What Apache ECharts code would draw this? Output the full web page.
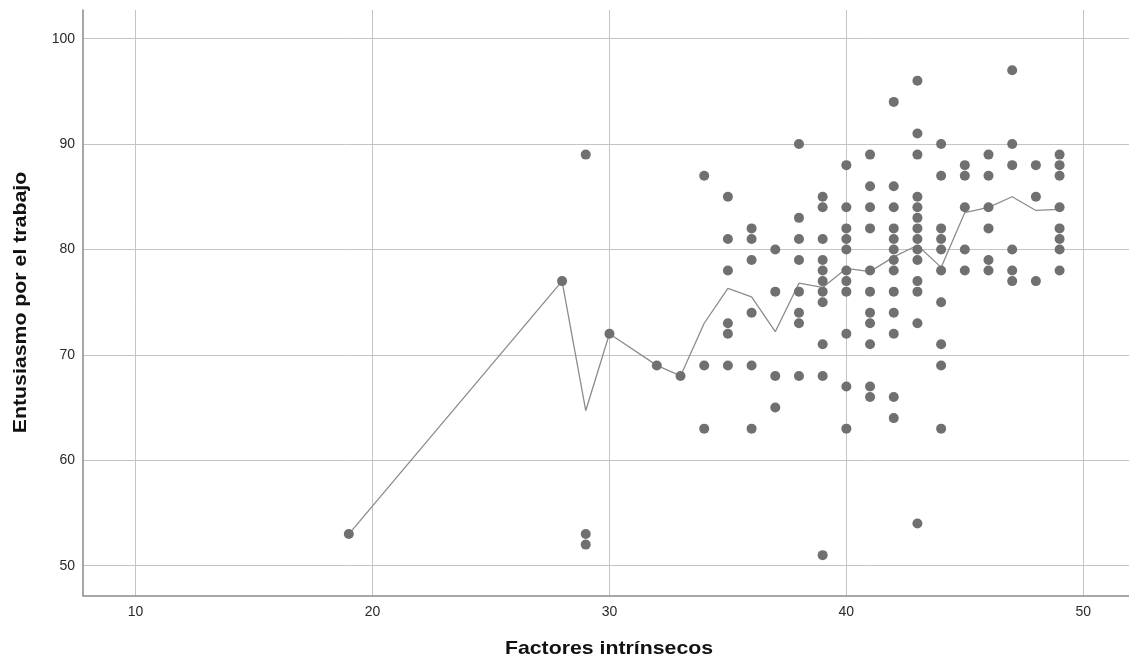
<!DOCTYPE html>
<html>
<head>
<meta charset="utf-8">
<title>Entusiasmo por el trabajo vs. Factores intrínsecos</title>
<script src="https://cdn.jsdelivr.net/npm/echarts@6/dist/echarts.min.js"></script>
<style>
  html, body { margin: 0; padding: 0; background: #ffffff; }
  #chart { width: 1129px; height: 663px; }
</style>
</head>
<body>
<div id="chart"></div>
<script>
// Observed scores: each x value with the list of "Entusiasmo" scores at it
const xValues = [19, 28, 29, 30, 32, 33, 34, 35, 36, 37, 38, 39, 40, 41, 42, 43, 44, 45, 46, 47, 48, 49];
const yGroups = [
  [53],
  [77],
  [89, 53, 52],
  [72],
  [69],
  [68],
  [87, 69, 63],
  [85, 81, 78, 73, 72, 69],
  [82, 81, 79, 74, 69, 63],
  [80, 76, 68, 65],
  [90, 83, 81, 79, 76, 74, 73, 68],
  [85, 84, 81, 79, 78, 77, 76, 75, 71, 68, 51],
  [88, 84, 82, 81, 80, 78, 77, 76, 72, 67, 63],
  [89, 86, 84, 82, 78, 76, 74, 73, 71, 67, 66],
  [94, 86, 84, 82, 81, 80, 79, 78, 76, 74, 72, 66, 64],
  [96, 91, 89, 85, 84, 83, 82, 81, 80, 79, 77, 76, 73, 54],
  [90, 87, 82, 81, 80, 78, 75, 71, 69, 63],
  [88, 87, 84, 80, 78],
  [89, 87, 84, 82, 79, 78],
  [97, 90, 88, 80, 78, 77],
  [88, 85, 77],
  [89, 88, 87, 84, 82, 81, 80, 78]
];
// Mean score at each x value (fit line at the group means)
const meanLine = [53, 77, 64.7, 72, 69, 68, 73, 76.3, 75.5, 72.2, 76.8, 76.4, 78.2, 77.9, 79.3, 80.4, 78.3, 83.5, 84.0, 85.0, 83.7, 83.8];

const xTitle = 'Factores intrínsecos';
const yTitle = 'Entusiasmo por el trabajo';

const scatterData = [];
xValues.forEach((x, i) => yGroups[i].forEach(y => scatterData.push([x, y])));
const lineData = xValues.map((x, i) => [x, meanLine[i]]);

const FONT = '"Liberation Sans", Arial, sans-serif';
const TITLE_STRETCH = 1.12; // axis titles are set slightly wide

function titleText(text, x, y, rotation) {
  return {
    type: 'text',
    x: x,
    y: y,
    rotation: rotation,
    scaleX: TITLE_STRETCH,
    silent: true,
    style: {
      text: text,
      fontFamily: FONT,
      fontSize: 19,
      fontWeight: 'bold',
      fill: '#111111',
      align: 'center',
      verticalAlign: 'middle',
      textAlign: 'center',
      textVerticalAlign: 'middle'
    }
  };
}

const chart = echarts.init(document.getElementById('chart'), null, { renderer: 'canvas' });
chart.setOption({
  backgroundColor: '#ffffff',
  animation: false,
  grid: { left: 83, top: 10, right: 0, bottom: 67.5, containLabel: false },
  graphic: [
    titleText(xTitle, 609, 649, 0),
    titleText(yTitle, 21, 302.5, Math.PI / 2)
  ],
  xAxis: {
    type: 'value',
    min: 7.78,
    max: 51.93,
    splitNumber: 5,
    axisLine: { show: true, lineStyle: { color: '#8a8a8a', width: 1.5 } },
    axisTick: { show: false },
    axisLabel: { fontFamily: FONT, fontSize: 14, color: '#2a2a2a', margin: 10, showMinLabel: false, showMaxLabel: false },
    splitLine: { show: true, showMinLine: false, showMaxLine: false, lineStyle: { color: '#c4c4c4', width: 1 } }
  },
  yAxis: {
    type: 'value',
    min: 47.17,
    max: 102.72,
    splitNumber: 5,
    axisLine: { show: true, lineStyle: { color: '#8a8a8a', width: 1.5 } },
    axisTick: { show: false },
    axisLabel: { fontFamily: FONT, fontSize: 14, color: '#2a2a2a', margin: 8, showMinLabel: false, showMaxLabel: false },
    splitLine: { show: true, showMinLine: false, showMaxLine: false, lineStyle: { color: '#c4c4c4', width: 1 } }
  },
  series: [
    {
      type: 'line',
      data: lineData,
      symbol: 'none',
      lineStyle: { color: '#8c8c8c', width: 1.3 },
      z: 2,
      silent: true
    },
    {
      type: 'scatter',
      data: scatterData,
      symbol: 'circle',
      symbolSize: 10,
      itemStyle: { color: '#707070', opacity: 1 },
      z: 3,
      silent: true
    }
  ]
});
</script>
</body>
</html>
